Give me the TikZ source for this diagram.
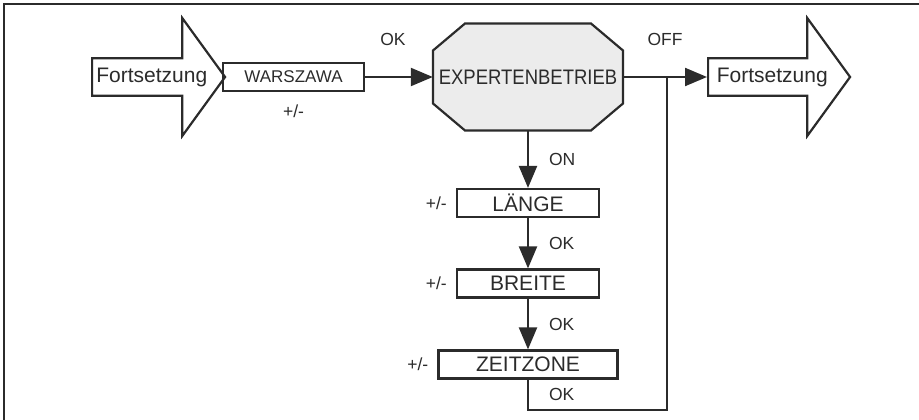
\documentclass[tikz,border=0pt]{standalone}
\usepackage{fontspec}
\setmainfont{Liberation Sans}
\usetikzlibrary{arrows.meta,shapes.arrows,positioning,calc}
\definecolor{ink}{HTML}{2B2B2B}
\definecolor{octofill}{HTML}{ECECEC}

\begin{document}
\begin{tikzpicture}[x=1pt,y=-1pt]
    \tikzset{
        menubox/.style={
            draw=ink, line width=2.2pt, text=ink, inner sep=0pt,
            minimum width=142pt, minimum height=28pt,
            font=\fontsize{21}{24}\selectfont,
        },
        bigarrow/.style={
            single arrow, draw=ink, line width=2.2pt, text=ink, inner sep=0pt,
            minimum width=118pt, single arrow head extend=22.5pt,
            single arrow tip angle=108, anchor=tail,
            font=\fontsize{21}{24}\selectfont,
        },
        flow/.style={
            draw=ink, line width=2.2pt,
            -{Triangle[length=22pt, width=18pt]},
        },
        lbl/.style={text=ink, inner sep=0pt, font=\fontsize{17.5}{20}\selectfont},
    }
    \useasboundingbox (0,0) rectangle (919,420);

    % Frame
    \draw[ink, line width=2.5pt] (4,420) -- (4,4) -- (919,4);

    % Octagon
    \coordinate (oct) at (528,77);
    \draw[ink, line width=2.2pt, fill=octofill]
        ($(oct)+(-63,-53.5)$) -- ($(oct)+(63,-53.5)$) -- ($(oct)+(95,-26.5)$)
        -- ($(oct)+(95,26.5)$) -- ($(oct)+(63,53.5)$) -- ($(oct)+(-63,53.5)$)
        -- ($(oct)+(-95,26.5)$) -- ($(oct)+(-95,-26.5)$) -- cycle;

    % Nodes
    \node[bigarrow, minimum height=133pt] (fwd1) at (91,77) {Fortsetzung};
    \node[menubox, minimum width=141pt, font=\fontsize{17}{20}\selectfont] (warszawa) at (293.5,77) {WARSZAWA};
    \node[minimum width=190pt, minimum height=107pt, inner sep=0pt, text=ink,
          font=\fontsize{21}{24}\selectfont] (expert) at (oct) {\scalebox{0.88}[1]{EXPERTENBETRIEB}};
    \node[bigarrow, minimum height=142pt] (fwd2) at (707,77) {Fortsetzung};
    \node[menubox] (laenge) at (528,203) {LÄNGE};
    \node[menubox] (breite) at (528,283.5) {BREITE};
    \node[menubox, minimum width=179pt] (zeitzone) at (528,364.5) {ZEITZONE};
    \coordinate (split) at ($(expert.east)!0.52!(fwd2.tail)$);

    % +/- labels
    \node[lbl, below=13pt of warszawa] {+/-};
    \node[lbl, left=9pt of laenge] {+/-};
    \node[lbl, left=9pt of breite] {+/-};
    \node[lbl, left=9pt of zeitzone] {+/-};

    % Arcs
    \draw[flow] (warszawa) -- node[lbl, midway, above=30pt, xshift=-6pt] {OK} (expert);
    \draw[flow] (expert) -- node[lbl, midway, above=30pt] {OFF} (fwd2.tail);
    \draw[flow] (expert) -- node[lbl, midway, right=20pt] {ON} (laenge);
    \draw[flow] (laenge) -- node[lbl, midway, right=20pt] {OK} (breite);
    \draw[flow] (breite) -- node[lbl, midway, right=20pt] {OK} (zeitzone);
    \draw[ink, line width=2.2pt] (zeitzone.south) -- node[lbl, right=20pt] {OK} ++(0,30) -| (split);
\end{tikzpicture}
\end{document}
